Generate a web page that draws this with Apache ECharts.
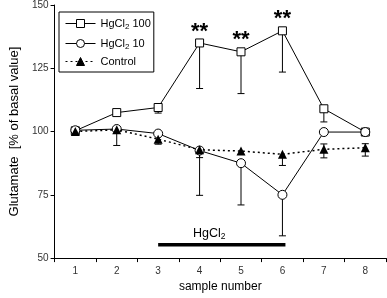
<!DOCTYPE html>
<html>
<head>
<meta charset="utf-8">
<script src="https://cdn.jsdelivr.net/npm/echarts@6/dist/echarts.min.js"></script>
<style>html,body{margin:0;padding:0;background:#fff}#c{width:387px;height:298px}</style>
</head>
<body>
<div id="c"></div>
<script>
// ---- data ----
var categories = ['1', '2', '3', '4', '5', '6', '7', '8'];
var seriesNames = ['HgCl2 100', 'HgCl2 10', 'Control'];
var hg100 = [100.3, 107.5, 109.5, 135, 131.5, 139.8, 109, 99.8];
var hg100Low = [null, null, 107.3, 117, 115, 123.5, 103.8, null];
var hg100Sig = ['', '', '', '**', '**', '**', '', ''];
var hg10 = [100.5, 101, 99.2, 92.5, 87.5, 75, 99.8, 99.8];
var hg10Low = [null, null, null, 74.8, 71, 58.8, null, null];
var control = [100, 100.7, 97, 92.8, 92.3, 91, 93, 93.6];
var controlLow = [null, 94.5, 95, 89.7, null, 86.6, 89.6, 90.3];
var controlHigh = [null, null, null, null, null, null, 95.1, 95.2];
var yTicks = [50, 75, 100, 125, 150];
var treatment = { label: 'HgCl2', from: 2, to: 5, level: 55.3 };

var FONT = 'Liberation Sans, Arial, sans-serif';

function errSegments(means, bounds) {
  var out = [];
  for (var i = 0; i < means.length; i++) {
    if (bounds[i] != null) out.push([i, means[i], bounds[i]]);
  }
  return out;
}
var errData = []
  .concat(errSegments(hg100, hg100Low))
  .concat(errSegments(hg10, hg10Low))
  .concat(errSegments(control, controlLow))
  .concat(errSegments(control, controlHigh));

var chart = echarts.init(document.getElementById('c'), null, { renderer: 'canvas' });

function legendFmt(name) {
  if (name.indexOf('HgCl2') === 0) {
    return '{a|HgCl}{s|2}{a| ' + name.slice(6) + '}';
  }
  return '{a|' + name + '}';
}

var option = {
  animation: false,
  textStyle: { fontFamily: FONT },
  grid: { left: 44, right: 1, top: 5, bottom: 36, containLabel: false },
  legend: {
    orient: 'vertical', left: 59, top: 12,
    data: seriesNames,
    borderColor: '#000', borderWidth: 1, borderRadius: 0,
    padding: [4, 3, 5, 6],
    itemWidth: 30, itemHeight: 10, itemGap: 5,
    itemStyle: { borderWidth: 1 },
    lineStyle: { width: 1 },
    formatter: legendFmt,
    textStyle: {
      fontFamily: FONT, color: '#000',
      rich: {
        a: { fontSize: 11, fontFamily: FONT, color: '#000', lineHeight: 15 },
        s: { fontSize: 8, fontFamily: FONT, color: '#000', lineHeight: 8, padding: [7, 0, 0, 0] }
      }
    }
  },
  xAxis: {
    type: 'category', data: categories, boundaryGap: true,
    name: 'sample number', nameLocation: 'middle', nameGap: 22,
    nameTextStyle: { fontSize: 12, color: '#000', fontFamily: FONT },
    axisLine: { lineStyle: { color: '#000', width: 1 } },
    axisTick: { show: true, length: 4, lineStyle: { color: '#000' } },
    axisLabel: { fontSize: 10, color: '#333', margin: 8, fontFamily: FONT },
    splitLine: { show: false }
  },
  yAxis: {
    type: 'value', min: yTicks[0], max: yTicks[yTicks.length - 1], interval: 25,
    name: 'Glutamate  [% of basal value]', nameLocation: 'middle', nameGap: 23,
    nameTextStyle: { fontSize: 13, color: '#000', fontFamily: FONT },
    axisLine: { show: true, lineStyle: { color: '#000', width: 1 } },
    axisTick: { show: true, length: 4, lineStyle: { color: '#000' } },
    axisLabel: { fontSize: 10, color: '#333', margin: 6, fontFamily: FONT },
    splitLine: { show: false }
  },
  series: [
    {
      type: 'custom', name: 'err', z: 1, silent: true,
      data: errData,
      renderItem: function (params, api) {
        var p0 = api.coord([api.value(0), api.value(1)]);
        var p1 = api.coord([api.value(0), api.value(2)]);
        var cw = 3.5;
        return {
          type: 'group',
          children: [
            { type: 'line', shape: { x1: p0[0], y1: p0[1], x2: p1[0], y2: p1[1] }, style: { stroke: '#000', lineWidth: 1 } },
            { type: 'line', shape: { x1: p1[0] - cw, y1: p1[1], x2: p1[0] + cw, y2: p1[1] }, style: { stroke: '#000', lineWidth: 1 } }
          ]
        };
      }
    },
    {
      type: 'custom', name: 'treatment', z: 1, silent: true,
      data: [[treatment.from, treatment.to, treatment.level]],
      renderItem: function (params, api) {
        var a = api.coord([api.value(0), api.value(2)]);
        var b = api.coord([api.value(1), api.value(2)]);
        return {
          type: 'group',
          children: [
            { type: 'line', shape: { x1: a[0], y1: a[1], x2: b[0] + 3, y2: b[1] }, style: { stroke: '#000', lineWidth: 3.5 } },
            { type: 'text', x: (a[0] + b[0]) / 2 - 11, y: a[1] - 4,
              style: { text: '{a|HgCl}{s|2}', align: 'center', verticalAlign: 'bottom',
                rich: {
                  a: { fontSize: 12.5, fontFamily: FONT, fill: '#000', lineHeight: 15 },
                  s: { fontSize: 8.5, fontFamily: FONT, fill: '#000', lineHeight: 8, padding: [7, 0, 0, 0] }
                } } }
          ]
        };
      }
    },
    {
      type: 'line', name: seriesNames[0], z: 3,
      data: hg100.map(function (v, i) {
        return hg100Sig[i] ? { value: v, label: { show: true, formatter: hg100Sig[i], position: 'top', distance: 0, offset: [0, 4], fontSize: 22, fontWeight: 'bold', color: '#000', fontFamily: FONT } } : v;
      }),
      symbol: 'rect', symbolSize: 8,
      lineStyle: { color: '#000', width: 1 },
      itemStyle: { color: '#fff', borderColor: '#000', borderWidth: 1 }
    },
    {
      type: 'line', name: seriesNames[1], z: 4,
      data: hg10,
      symbol: 'circle', symbolSize: 9,
      lineStyle: { color: '#000', width: 1 },
      itemStyle: { color: '#fff', borderColor: '#000', borderWidth: 1 }
    },
    {
      type: 'line', name: seriesNames[2], z: 5,
      data: control,
      symbol: 'triangle', symbolSize: 9,
      lineStyle: { color: '#000', width: 1.5, type: [2, 3] },
      itemStyle: { color: '#000', borderColor: '#000', borderWidth: 0 }
    }
  ]
};
chart.setOption(option);
</script>
</body>
</html>
